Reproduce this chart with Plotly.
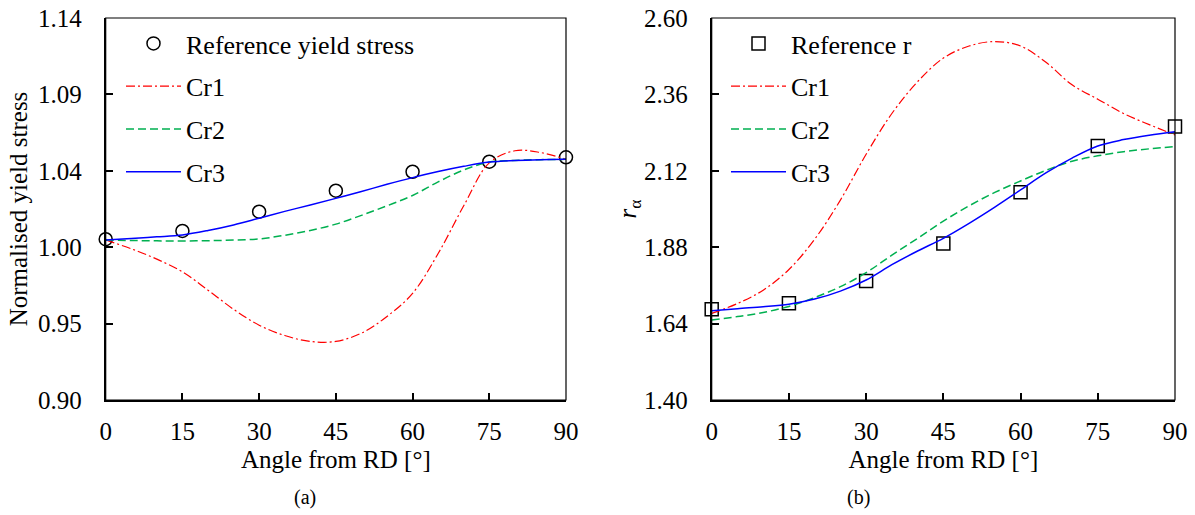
import plotly.graph_objects as go

# ---------------- data ----------------
ref_angles = [0, 15, 30, 45, 60, 75, 90]
ref_yield = [1.0010, 1.0062, 1.0183, 1.0315, 1.0434, 1.0497, 1.0525]
ref_r = [1.685, 1.704, 1.774, 1.892, 2.053, 2.198, 2.259]

angles = [0, 5, 10, 15, 20, 25, 30, 35, 40, 45, 50, 55, 60, 65, 70, 75, 80, 85, 90]

ys_cr1 = [1.0005, 0.9950, 0.9885, 0.9805, 0.9690, 0.9570, 0.9470, 0.9405, 0.9368, 0.9368,
          0.9420, 0.9525, 0.9670, 0.9920, 1.0220, 1.0490, 1.0566, 1.0555, 1.0512]
ys_cr2 = [1.0005, 1.0002, 1.0000, 0.9999, 1.0001, 1.0005, 1.0012, 1.0035, 1.0065, 1.0105,
          1.0160, 1.0220, 1.0285, 1.0370, 1.0445, 1.0495, 1.0505, 1.0510, 1.0512]
ys_cr3 = [1.0005, 1.0015, 1.0025, 1.0037, 1.0065, 1.0100, 1.0142, 1.0185, 1.0225, 1.0267,
          1.0310, 1.0355, 1.0397, 1.0435, 1.0468, 1.0495, 1.0505, 1.0510, 1.0512]

r_cr1 = [1.672, 1.703, 1.745, 1.810, 1.905, 2.028, 2.172, 2.300, 2.400, 2.474,
         2.512, 2.526, 2.512, 2.460, 2.390, 2.345, 2.300, 2.265, 2.233]
r_cr2 = [1.651, 1.662, 1.675, 1.694, 1.722, 1.756, 1.800, 1.855, 1.908, 1.962,
         2.010, 2.052, 2.088, 2.122, 2.150, 2.167, 2.180, 2.189, 2.196]
r_cr3 = [1.680, 1.687, 1.693, 1.701, 1.717, 1.742, 1.777, 1.825, 1.868, 1.908,
         1.955, 2.006, 2.060, 2.114, 2.160, 2.198, 2.218, 2.232, 2.243]

x_ticks = [0, 15, 30, 45, 60, 75, 90]

# ---------------- styling ----------------
W, H = 1195, 515
FONT = "Liberation Serif"
FS = 25
LFS = 26
RED, GREEN, BLUE = "#FF0000", "#00B050", "#0000FF"


def px_x(p):
    return p / W


def px_y(p):
    return 1 - p / H


fig = go.Figure()


def add_panel(xa, ya, legend, ref_name, ref_vals, symbol, c1, c2, c3):
    fig.add_trace(go.Scatter(
        x=ref_angles, y=ref_vals, mode="markers", name=ref_name,
        marker=dict(symbol=symbol, size=13, color="white",
                    line=dict(color="black", width=1.5)),
        cliponaxis=False, xaxis=xa, yaxis=ya, legend=legend, legendgroup=legend + "a"))
    fig.add_trace(go.Scatter(
        x=angles, y=c1, mode="lines", name="Cr1",
        line=dict(color=RED, width=1.2, dash="9px,3px,2px,3px", shape="spline"),
        xaxis=xa, yaxis=ya, legend=legend, legendgroup=legend + "b"))
    fig.add_trace(go.Scatter(
        x=angles, y=c2, mode="lines", name="Cr2",
        line=dict(color=GREEN, width=1.5, dash="8px,4px", shape="spline"),
        xaxis=xa, yaxis=ya, legend=legend, legendgroup=legend + "c"))
    fig.add_trace(go.Scatter(
        x=angles, y=c3, mode="lines", name="Cr3",
        line=dict(color=BLUE, width=1.5, shape="spline"),
        xaxis=xa, yaxis=ya, legend=legend, legendgroup=legend + "d"))


add_panel("x", "y", "legend", "Reference yield stress", ref_yield, "circle", ys_cr1, ys_cr2, ys_cr3)
add_panel("x2", "y2", "legend2", "Reference r", ref_r, "square", r_cr1, r_cr2, r_cr3)

ydom = [px_y(400), px_y(18)]
axis_common = dict(showline=True, linecolor="black", linewidth=2, ticks="inside",
                   ticklen=7, tickwidth=1.5, tickcolor="black", showgrid=False,
                   zeroline=False, automargin=False,
                   tickfont=dict(family=FONT, size=FS, color="black"),
                   title_font=dict(family=FONT, size=FS, color="black"))

fig.update_layout(
    width=W, height=H, margin=dict(l=0, r=0, t=0, b=0, autoexpand=False),
    paper_bgcolor="white", plot_bgcolor="white",
    font=dict(family=FONT, size=FS, color="black"),
    xaxis=dict(domain=[px_x(105.7), px_x(566)], range=[0, 90], tickvals=x_ticks,
               anchor="y", title=dict(text="Angle from RD [°]", standoff=6),
               ticklabelstandoff=8, **axis_common),
    yaxis=dict(domain=ydom, range=[0.9, 1.14], tick0=0.9, dtick=0.048, tickformat=".2f",
               anchor="x", title=dict(text="Normalised yield stress", standoff=3),
               ticklabelstandoff=17, **axis_common),
    xaxis2=dict(domain=[px_x(711.7), px_x(1175)], range=[0, 90], tickvals=x_ticks,
                anchor="y2", title=dict(text="Angle from RD [°]", standoff=6),
                ticklabelstandoff=8, **axis_common),
    yaxis2=dict(domain=ydom, range=[1.4, 2.6], tick0=1.4, dtick=0.24, tickformat=".2f",
                anchor="x2", title=dict(text="<i>r</i><sub>α</sub>", standoff=0),
                ticklabelstandoff=17, **axis_common),
    legend=dict(x=px_x(121), y=px_y(20), xanchor="left", yanchor="top",
                bgcolor="rgba(0,0,0,0)", font=dict(family=FONT, size=LFS),
                tracegroupgap=6, itemwidth=55),
    legend2=dict(x=px_x(726), y=px_y(20), xanchor="left", yanchor="top",
                 bgcolor="rgba(0,0,0,0)", font=dict(family=FONT, size=LFS),
                 tracegroupgap=6, itemwidth=55),
    showlegend=True,
)

# thin frame on top/right
for xa, ya in (("x", "y"), ("x2", "y2")):
    fig.add_shape(type="rect", xref=f"{xa} domain", yref=f"{ya} domain",
                  x0=0, x1=1, y0=0, y1=1, line=dict(color="black", width=1.2), layer="above")

fig.add_annotation(text="(a)", x=px_x(305), y=px_y(497), xref="paper", yref="paper",
                   xanchor="center", yanchor="middle",
                   showarrow=False, font=dict(family=FONT, size=20, color="black"))
fig.add_annotation(text="(b)", x=px_x(858), y=px_y(497), xref="paper", yref="paper",
                   xanchor="center", yanchor="middle",
                   showarrow=False, font=dict(family=FONT, size=20, color="black"))

fig.write_html("out.html")
